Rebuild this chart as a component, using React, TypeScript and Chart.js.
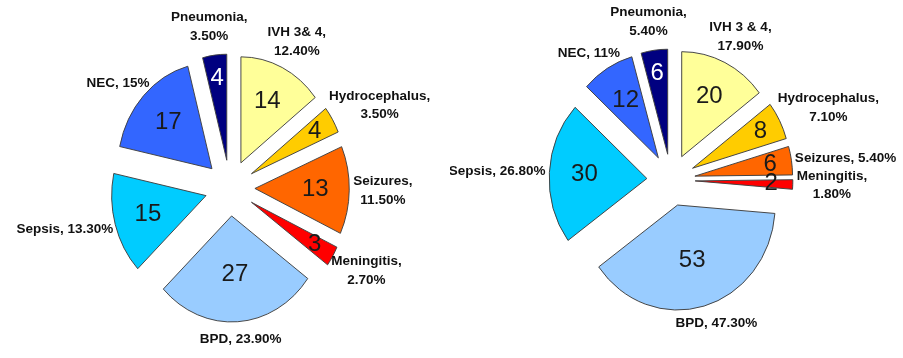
import React, { useEffect, useRef } from "react";
import { Chart, PieController, ArcElement } from "chart.js";

Chart.register(PieController, ArcElement);

// ---- data ----
const leftCategories = ["IVH 3& 4", "Hydrocephalus", "Seizures", "Meningitis", "BPD", "Sepsis", "NEC", "Pneumonia"];
const rightCategories = ["IVH 3 & 4", "Hydrocephalus", "Seizures", "Meningitis", "BPD", "Sepsis", "NEC", "Pneumonia"];
const leftCounts = [14, 4, 13, 3, 27, 15, 17, 4];
const leftPercents = ["12.40%", "3.50%", "11.50%", "2.70%", "23.90%", "13.30%", "15%", "3.50%"];
const rightCounts = [20, 8, 6, 2, 53, 30, 12, 6];
const rightPercents = ["17.90%", "7.10%", "5.40%", "1.80%", "47.30%", "26.80%", "11%", "5.40%"];

// ---- styles ----
const sliceColors = ["#FFFF99", "#FFCC00", "#FF6600", "#FF0000", "#99CCFF", "#00CCFF", "#3366FF", "#000080"];
const valueColors = ["#1a1a1a", "#1a1a1a", "#1a1a1a", "#1a1a1a", "#1a1a1a", "#1a1a1a", "#1a1a1a", "#ffffff"];

const FONT = "'Liberation Sans', Arial, sans-serif";

function centerOf(chart: any) {
  const { left, right, top, bottom } = chart.chartArea;
  return { cx: (left + right) / 2, cy: (top + bottom) / 2 };
}

const explodePlugin = {
  id: "explodeSlices",
  afterDatasetsUpdate(chart: any, _args: any, opts: any) {
    const meta = chart.getDatasetMeta(0);
    const { cx, cy } = centerOf(chart);
    const d = opts.distance || 0;
    meta.data.forEach((arc: any) => {
      const mid = (arc.startAngle + arc.endAngle) / 2;
      arc.x = cx + Math.cos(mid) * d;
      arc.y = cy + Math.sin(mid) * d;
    });
  },
};

const labelPlugin = {
  id: "sliceLabels",
  beforeDatasetsDraw(chart: any, _args: any, opts: any) {
    const ctx = chart.ctx;
    const { cx } = centerOf(chart);
    ctx.save();
    ctx.translate(cx, 0);
    ctx.scale(opts.squeeze || 1, 1);
    ctx.translate(-cx, 0);
  },
  afterDatasetsDraw(chart: any, _args: any, opts: any) {
    const ctx = chart.ctx;
    ctx.restore();
    const meta = chart.getDatasetMeta(0);
    const { cx, cy } = centerOf(chart);
    const sx = opts.squeeze || 1;
    const counts: number[] = opts.counts;
    const cats: string[] = opts.categories;
    const pcts: string[] = opts.percents;
    const d = opts.distance || 0;
    ctx.save();
    meta.data.forEach((arc: any, i: number) => {
      const mid = (arc.startAngle + arc.endAngle) / 2;
      const span = ((arc.endAngle - arc.startAngle) * 180) / Math.PI;
      const dx = Math.cos(mid);
      const dy = Math.sin(mid);
      const R = arc.outerRadius;
      const frac = span > 90 ? 0.55 : span < 25 ? 0.78 : 0.64;
      const vr = d + R * frac;
      ctx.font = `24px ${FONT}`;
      ctx.textAlign = "center";
      ctx.textBaseline = "middle";
      ctx.fillStyle = valueColors[i];
      ctx.fillText(String(counts[i]), cx + sx * dx * vr, cy + dy * vr);

      ctx.font = `bold 13.5px ${FONT}`;
      ctx.fillStyle = "#111111";
      const full = `${cats[i]}, ${pcts[i]}`;
      const lines = ctx.measureText(full).width > 105 ? [cats[i] + ",", pcts[i]] : [full];
      const w = Math.max(...lines.map((l) => ctx.measureText(l).width));
      const lh = 18.5;
      const h = lines.length === 1 ? 16 : lh * 2;
      const Dx = sx * (d + R) + 4;
      const Dy = d + R + 10;
      const px = cx + dx * Dx + (dx * w) / 2;
      const py = cy + dy * Dy + (dy * h) / 2;
      lines.forEach((l, k) => {
        ctx.fillText(l, px, py + (k - (lines.length - 1) / 2) * lh);
      });
    });
    ctx.restore();
  },
};

type PieProps = {
  counts: number[];
  percents: string[];
  categories: string[];
  width: number;
  height: number;
  padding: { left: number; right: number; top: number; bottom: number };
  radius: number;
  explode: number;
  squeeze: number;
};

function ExplodedPie(props: PieProps) {
  const ref = useRef<HTMLCanvasElement | null>(null);
  useEffect(() => {
    if (!ref.current) return;
    const chart = new Chart(ref.current, {
      type: "pie",
      data: {
        labels: props.categories,
        datasets: [
          {
            data: props.counts,
            backgroundColor: sliceColors,
            borderColor: "#404040",
            borderWidth: 1,
            offset: 0,
          },
        ],
      },
      options: {
        responsive: false,
        animation: false,
        events: [],
        radius: props.radius,
        layout: { padding: props.padding },
        plugins: {
          legend: { display: false },
          tooltip: { enabled: false },
          explodeSlices: { distance: props.explode },
          sliceLabels: {
            counts: props.counts,
            categories: props.categories,
            percents: props.percents,
            distance: props.explode,
            squeeze: props.squeeze,
          },
        } as any,
      },
      plugins: [explodePlugin, labelPlugin],
    });
    return () => chart.destroy();
  }, []);
  return <canvas ref={ref} width={props.width} height={props.height} style={{ display: "block" }} />;
}

export default function App() {
  return (
    <div style={{ position: "absolute", left: 0, top: 0, width: 903, height: 358, background: "#ffffff", display: "flex" }}>
      <ExplodedPie
        counts={leftCounts}
        percents={leftPercents}
        categories={leftCategories}
        width={450}
        height={358}
        padding={{ left: 10, right: 0, top: 18, bottom: 0 }}
        radius={106}
        explode={28}
        squeeze={0.89}
      />
      <ExplodedPie
        counts={rightCounts}
        percents={rightPercents}
        categories={rightCategories}
        width={453}
        height={358}
        padding={{ left: 0, right: 11, top: 2, bottom: 0 }}
        radius={105}
        explode={26}
        squeeze={0.93}
      />
    </div>
  );
}
